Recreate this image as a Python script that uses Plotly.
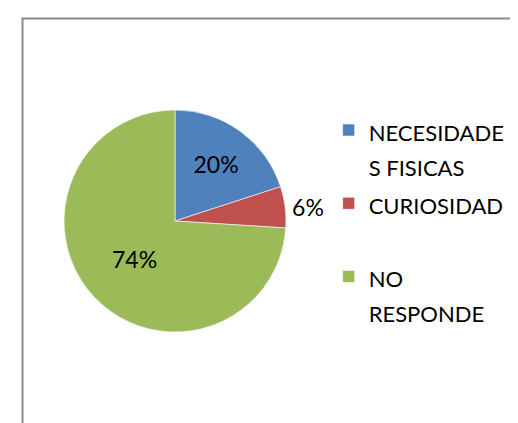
import plotly.graph_objects as go

# categories and shares (%)
categories = ["NECESIDADE\nS FISICAS", "CURIOSIDAD\n ", "NO\nRESPONDE"]
values = [20, 6, 74]
colors = ["#4F81BD", "#C0504D", "#9BBB59"]
text_positions = ["inside", "outside", "inside"]

W, H = 518, 423
LEGEND_TEXT_PX = 22


def legend_label(name):
    # each line in a smaller span so the line pitch (legend font) stays loose like Excel's
    return "<br>".join(
        f"<span style='font-size:{LEGEND_TEXT_PX}px'>{line}</span>" for line in name.split("\n")
    )


labels = [legend_label(c) for c in categories]

fig = go.Figure(
    go.Pie(
        labels=labels,
        values=values,
        sort=False,
        direction="clockwise",
        rotation=0,
        marker=dict(colors=colors, line=dict(color="white", width=0.6)),
        textinfo="percent",
        texttemplate="%{percent:.0%}",
        textposition=text_positions,
        insidetextorientation="horizontal",
        textfont=dict(size=23, color="black"),
        domain=dict(x=[56 / W, 278 / W], y=[1 - 324 / H, 1 - 102 / H]),
        hoverinfo="percent",
    )
)

# chart-area frame (cropped on the right and bottom in the reference)
fig.add_shape(
    type="rect",
    xref="paper",
    yref="paper",
    x0=14.5 / W,
    x1=1.05,
    y0=-0.05,
    y1=1 - 10.5 / H,
    line=dict(color="#8a8a8a", width=2),
)

fig.update_layout(
    width=W,
    height=H,
    margin=dict(l=0, r=0, t=0, b=0),
    paper_bgcolor="white",
    plot_bgcolor="white",
    font=dict(family="Lato, Calibri, sans-serif", size=19, color="black"),
    legend=dict(
        x=0.619,
        y=1 - 98 / H,
        xanchor="left",
        yanchor="top",
        valign="top",
        font=dict(size=27),
        itemclick=False,
    ),
    showlegend=True,
)

fig.write_html("out.html")
